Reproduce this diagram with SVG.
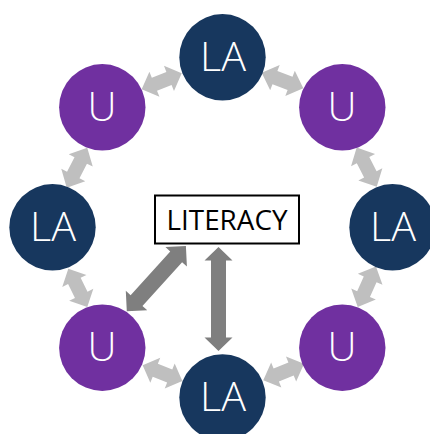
<svg xmlns="http://www.w3.org/2000/svg" width="430" height="434" viewBox="0 0 430 434">
<style>
.la{fill:#17375E}.u{fill:#7030A0}
.t{fill:#fff;font-family:"Open Sans","Liberation Sans",sans-serif;font-size:41px;font-weight:300;text-anchor:middle}
.l{fill:#BFBFBF}.d{fill:#7F7F7F}
</style>
<defs>
<path id="a" d="M-22 0L-8 -13.5V-7H8V-13.5L22 0L8 13.5V7H-8V13.5Z"/>
</defs>
<rect width="430" height="434" fill="#fff"/>
<g id="connectors">
<use href="#a" class="l" transform="translate(161.7 81.3) rotate(-21.8) scale(.98 1)"/>
<use href="#a" class="l" transform="translate(282.5 80.5) rotate(20.6) scale(1.01 1)"/>
<use href="#a" class="l" transform="translate(77 167.7) rotate(117.2) scale(1.02 1)"/>
<use href="#a" class="l" transform="translate(366.7 167.2) rotate(62.9)"/>
<use href="#a" class="l" transform="translate(77.8 287.85) rotate(63.6) scale(.97 1)"/>
<use href="#a" class="l" transform="translate(366.85 286.65) rotate(114.2) scale(1.01 1)"/>
<use href="#a" class="l" transform="translate(162.5 373.15) rotate(21.6) scale(.97 1)"/>
<use href="#a" class="l" transform="translate(283.65 372) rotate(-22.2)"/>
<path class="d" transform="translate(156.35 278.65) rotate(-47.8)" d="M-44 0L-29.5 -14.5V-8H29.5V-14.5L44 0L29.5 14.5V8H-29.5V14.5Z"/>
<path class="d" transform="translate(218.5 299) rotate(90)" d="M-52 0L-38.5 -14V-7.5H38.5V-14L52 0L38.5 14V7.5H-38.5V14Z"/>
</g>
<g id="la-top"><circle class="la" cx="222.5" cy="57.3" r="43.2"/><text class="t" x="223" y="71" textLength="46" lengthAdjust="spacingAndGlyphs">LA</text></g>
<g id="u-top-left"><circle class="u" cx="102.3" cy="107.3" r="43.2"/><text class="t" x="102" y="121" textLength="29" lengthAdjust="spacingAndGlyphs">U</text></g>
<g id="u-top-right"><circle class="u" cx="342.3" cy="107.3" r="43.2"/><text class="t" x="342" y="121" textLength="29" lengthAdjust="spacingAndGlyphs">U</text></g>
<g id="la-left"><circle class="la" cx="52.5" cy="227.3" r="43.2"/><text class="t" x="53" y="241" textLength="46" lengthAdjust="spacingAndGlyphs">LA</text></g>
<g id="la-right"><circle class="la" cx="392.5" cy="227.3" r="43.2"/><text class="t" x="393" y="241" textLength="46" lengthAdjust="spacingAndGlyphs">LA</text></g>
<g id="u-bottom-left"><circle class="u" cx="102.3" cy="347.7" r="43.2"/><text class="t" x="102" y="361" textLength="29" lengthAdjust="spacingAndGlyphs">U</text></g>
<g id="u-bottom-right"><circle class="u" cx="342.3" cy="347.7" r="43.2"/><text class="t" x="342" y="361" textLength="29" lengthAdjust="spacingAndGlyphs">U</text></g>
<g id="la-bottom"><circle class="la" cx="222.5" cy="397.5" r="43.2"/><text class="t" x="223" y="411" textLength="46" lengthAdjust="spacingAndGlyphs">LA</text></g>
<g id="literacy"><rect x="155" y="195.5" width="144" height="48" fill="#fff" stroke="#000" stroke-width="2"/><text x="227" y="230" font-family="Open Sans,Liberation Sans,sans-serif" font-size="28" text-anchor="middle" fill="#000" textLength="121" lengthAdjust="spacingAndGlyphs">LITERACY</text></g>
</svg>
